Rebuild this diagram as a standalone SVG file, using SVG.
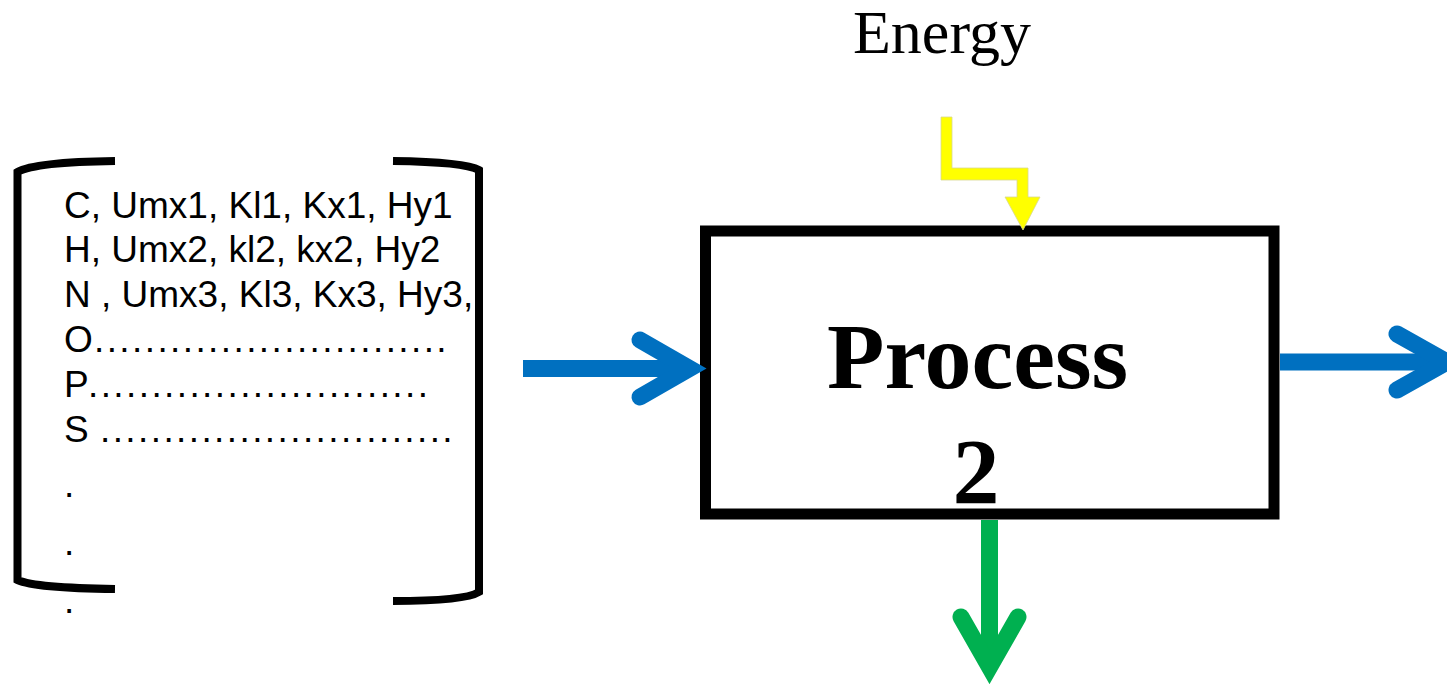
<svg xmlns="http://www.w3.org/2000/svg" width="1447" height="684" viewBox="0 0 1447 684">
<style>
.mx{font-family:"Liberation Sans",Arial,sans-serif;font-size:37px;fill:#000}
.dots{letter-spacing:2.4px}
.bracket{fill:none;stroke:#000;stroke-width:8;stroke-linecap:butt}
.blue{fill:none;stroke:#0070C0;stroke-width:17;stroke-linejoin:miter;stroke-linecap:round}
.shaft-b{fill:none;stroke:#0070C0;stroke-width:17}
.green{fill:none;stroke:#00B050;stroke-width:17;stroke-linejoin:miter;stroke-linecap:round}
.shaft-g{fill:none;stroke:#00B050;stroke-width:17}
.serif{font-family:"Liberation Serif","Times New Roman",serif;fill:#000}
</style>
<rect width="1447" height="684" fill="#fff"/>
<g id="energy-label">
<text class="serif" x="853" y="53" font-size="62">Energy</text>
</g>
<g id="matrix">
<path class="bracket" d="M115,161 Q35,162 17.5,172 L17.5,580 Q35,588 115,589"/>
<path class="bracket" d="M393,161 Q465,162 479,170 L479,592 Q465,601 393,601"/>
<text class="mx" x="64" y="218">C, Umx1, Kl1, Kx1, Hy1</text>
<text class="mx" x="64" y="262">H, Umx2, kl2, kx2, Hy2</text>
<text class="mx" x="64" y="307">N , Umx3, Kl3, Kx3, Hy3,</text>
<text class="mx" x="64" y="352">O</text>
<text class="mx dots" x="94" y="352">............................</text>
<text class="mx" x="64" y="397">P</text>
<text class="mx dots" x="88" y="397">...........................</text>
<text class="mx" x="64" y="442">S</text>
<text class="mx dots" x="100" y="442">............................</text>
<text class="mx" x="64" y="497">.</text>
<text class="mx" x="64" y="555">.</text>
<text class="mx" x="64" y="613">.</text>
</g>
<g id="process-2">
<rect x="705.5" y="231" width="568.5" height="283" fill="none" stroke="#000" stroke-width="11"/>
<text class="serif" x="827" y="388" font-size="94" font-weight="bold">Process</text>
<text class="serif" x="976" y="503" font-size="94" font-weight="bold" text-anchor="middle">2</text>
</g>
<g id="connectors">
<line class="shaft-b" x1="523" y1="368.5" x2="690" y2="368.5"/>
<path class="blue" d="M640,340 L689.5,368.5 L640,397"/>
<line class="shaft-b" x1="1280" y1="362" x2="1447" y2="362"/>
<path class="blue" d="M1397,334 L1447,362 L1397,390"/>
<line class="shaft-g" x1="989.5" y1="520" x2="989.5" y2="667"/>
<path class="green" d="M961,617 L989.5,667 L1018,617"/>
<polygon points="941,117 952,117 952,168 1028,168 1028,197 1040,197 1023,230 1005,197 1017,197 1017,180 941,180" fill="#FFFF00" stroke="#d8d890" stroke-width="0.8"/>
</g>
</svg>
